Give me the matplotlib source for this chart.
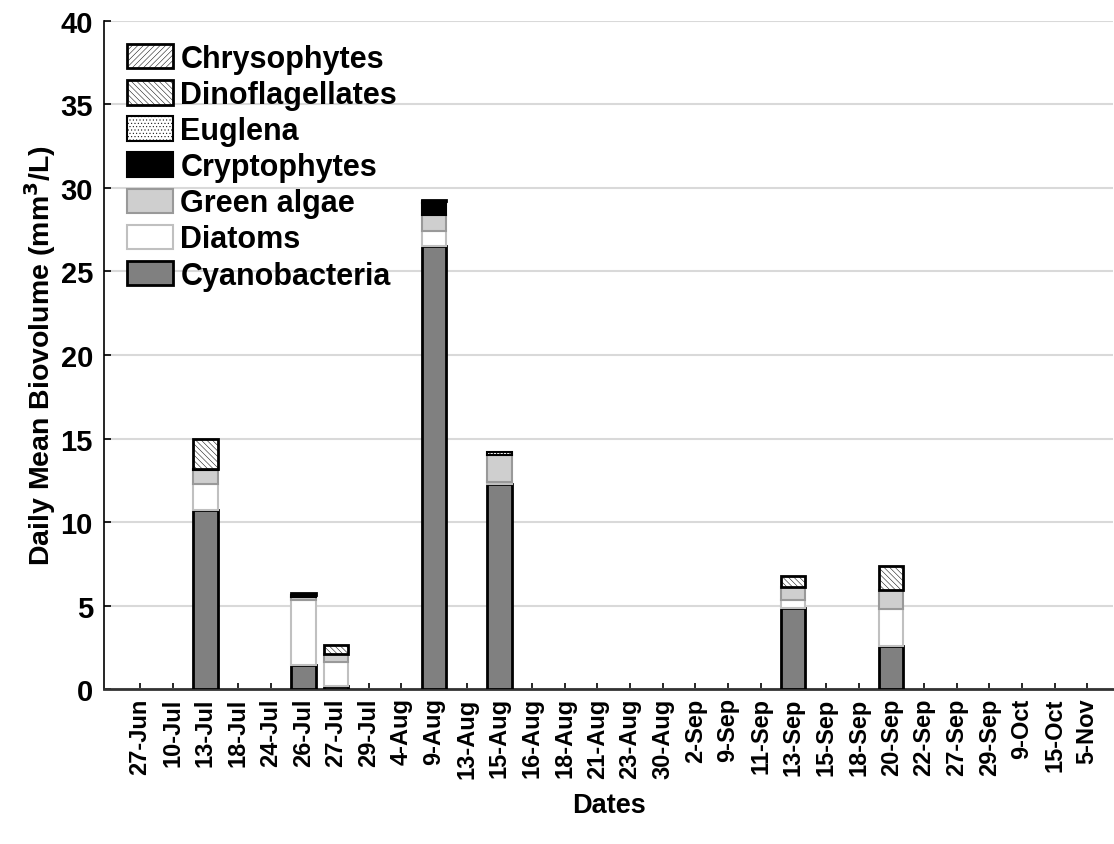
import numpy as np
import matplotlib
matplotlib.use("Agg")
from matplotlib import pyplot as plt
from matplotlib.patches import Patch

plt.rcParams['font.family'] = ['Liberation Sans', 'DejaVu Sans']
plt.rcParams['font.weight'] = 'bold'
plt.rcParams['hatch.linewidth'] = 0.35

dates = ['27-Jun', '10-Jul', '13-Jul', '18-Jul', '24-Jul', '26-Jul', '27-Jul', '29-Jul',
         '4-Aug', '9-Aug', '13-Aug', '15-Aug', '16-Aug', '18-Aug', '21-Aug', '23-Aug',
         '30-Aug', '2-Sep', '9-Sep', '11-Sep', '13-Sep', '15-Sep', '18-Sep', '20-Sep',
         '22-Sep', '27-Sep', '29-Sep', '9-Oct', '15-Oct', '5-Nov']

# daily mean biovolume, mm3/L (stack order bottom -> top)
cyanobacteria   = [0, 0, 10.7, 0, 0, 1.45, 0.2, 0, 0, 26.55, 0, 12.3, 0, 0, 0, 0, 0, 0, 0, 0, 4.85, 0, 0, 2.55, 0, 0, 0, 0, 0, 0]
diatoms         = [0, 0, 1.55, 0, 0, 3.9, 1.4, 0, 0, 0.9, 0, 0.1, 0, 0, 0, 0, 0, 0, 0, 0, 0.5, 0, 0, 2.25, 0, 0, 0, 0, 0, 0]
green_algae     = [0, 0, 0.85, 0, 0, 0.15, 0.5, 0, 0, 0.95, 0, 1.6, 0, 0, 0, 0, 0, 0, 0, 0, 0.75, 0, 0, 1.1, 0, 0, 0, 0, 0, 0]
cryptophytes    = [0, 0, 0, 0, 0, 0, 0, 0, 0, 0.68, 0, 0, 0, 0, 0, 0, 0, 0, 0, 0, 0, 0, 0, 0, 0, 0, 0, 0, 0, 0]
euglena         = [0, 0, 0.05, 0, 0, 0.15, 0, 0, 0, 0.17, 0, 0.2, 0, 0, 0, 0, 0, 0, 0, 0, 0, 0, 0, 0, 0, 0, 0, 0, 0, 0]
dinoflagellates = [0, 0, 1.85, 0, 0, 0.1, 0.55, 0, 0, 0.05, 0, 0, 0, 0, 0, 0, 0, 0, 0, 0, 0.65, 0, 0, 1.45, 0, 0, 0, 0, 0, 0]
chrysophytes    = [0] * 30

series = [
    ('Cyanobacteria', cyanobacteria, dict(facecolor='#808080', edgecolor='black', linewidth=2.0)),
    ('Diatoms', diatoms, dict(facecolor='white', edgecolor='#c0c0c0', linewidth=1.5)),
    ('Green algae', green_algae, dict(facecolor='#cfcfcf', edgecolor='#999999', linewidth=1.5)),
    ('Cryptophytes', cryptophytes, dict(facecolor='black', edgecolor='black', linewidth=1.5)),
    ('Euglena', euglena, dict(facecolor='white', edgecolor='black', linewidth=1.5, hatch='.....')),
    ('Dinoflagellates', dinoflagellates, dict(facecolor='white', edgecolor='black', linewidth=2.0, hatch='\\\\\\\\\\\\')),
    ('Chrysophytes', chrysophytes, dict(facecolor='white', edgecolor='black', linewidth=2.0, hatch='//////')),
]

fig = plt.figure(figsize=(11.14, 8.45), dpi=100)
ax = fig.add_axes([0.0934, 0.1834, 0.906, 0.7906])

x = np.arange(len(dates))
bottom = np.zeros(len(dates))
for name, vals, style in series:
    vals = np.array(vals, dtype=float)
    mask = vals > 0
    ax.bar(x[mask], vals[mask], 0.75, bottom=bottom[mask], zorder=3, **style)
    bottom += vals

ax.set_xlim(-1.1, 29.8)
ax.set_ylim(0, 40)
ax.set_yticks(np.arange(0, 41, 5))
ax.set_xticks(x)
ax.set_xticklabels(dates, rotation=90, fontsize=17, fontweight='bold')
ax.tick_params(axis='y', labelsize=21, direction='in', length=5, width=1.2, pad=8)
ax.tick_params(axis='x', direction='in', length=4, width=1.2, pad=6)
for lab in ax.get_yticklabels():
    lab.set_fontweight('bold')

ax.yaxis.grid(True, color='#d9d9d9', linewidth=1.5, zorder=0)
ax.set_axisbelow(True)
ax.spines['top'].set_visible(False)
ax.spines['right'].set_visible(False)
ax.spines['left'].set_linewidth(1.2)
ax.spines['bottom'].set_linewidth(2.0)
ax.spines['bottom'].set_color('#333333')

ax.set_xlabel('Dates', fontsize=19.5, fontweight='bold', labelpad=10)
ax.set_ylabel('Daily Mean Biovolume (mm$^\\mathbf{3}$/L)', fontsize=20.5, fontweight='bold', labelpad=2)

handles = [Patch(label=name, **style) for name, vals, style in reversed(series)]
ax.legend(handles=handles, loc='upper left', frameon=False,
          handlelength=1.5, handleheight=0.85, labelspacing=0.2,
          handletextpad=0.25, borderaxespad=0.35, borderpad=0.4,
          prop={'weight': 'bold', 'size': 22})

fig.savefig('out.png', dpi=100)
